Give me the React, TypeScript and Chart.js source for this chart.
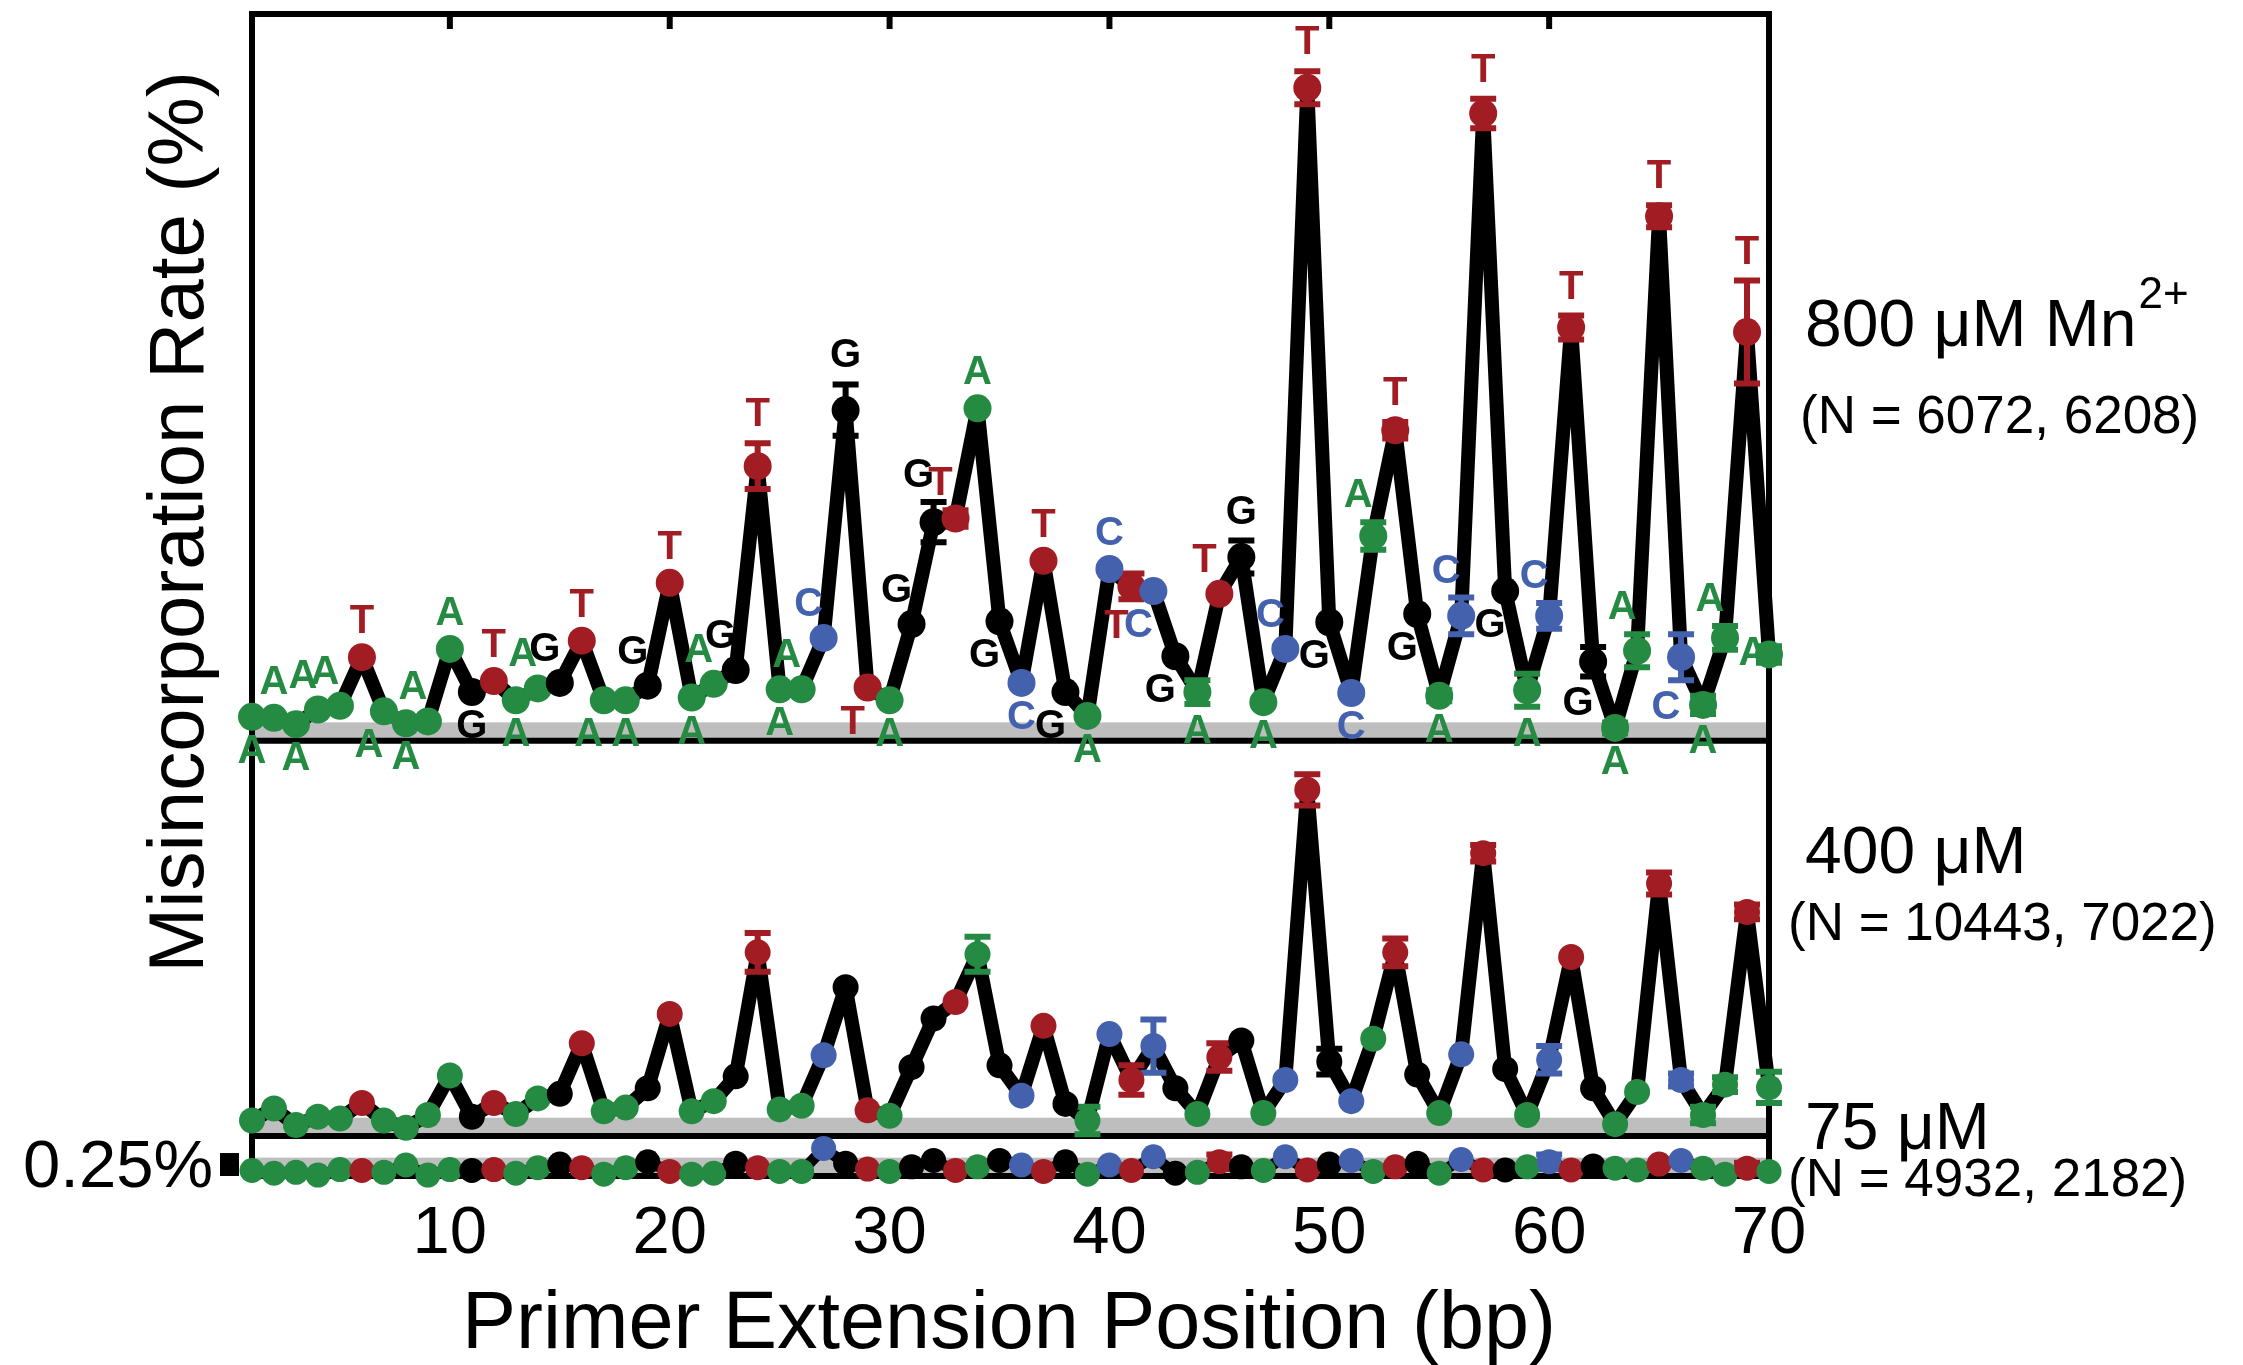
import React, { useEffect, useRef } from "react";
import { Chart, registerables } from "chart.js";

Chart.register(...registerables);

// ---------- data ----------
const POSITIONS = [
  1, 2, 3, 4, 5, 6, 7, 8, 9, 10, 11, 12, 13, 14, 15, 16, 17, 18, 19, 20,
  21, 22, 23, 24, 25, 26, 27, 28, 29, 30, 31, 32, 33, 34, 35, 36, 37, 38, 39, 40,
  41, 42, 43, 44, 45, 46, 47, 48, 49, 50, 51, 52, 53, 54, 55, 56, 57, 58, 59, 60,
  61, 62, 63, 64, 65, 66, 67, 68, 69, 70,
];

const SEQUENCE = "AAAAATAAAAGTAAGTAAGTAAGTAACGTAGGTAGCTGACTCGATGACTGCATGACTGACTGAATCAATA".split("");

// 800 uM Mn2+ (misincorporation rate, %)
const RATE_800 = [
  0.26, 0.25, 0.18, 0.34, 0.38, 0.91, 0.32, 0.19, 0.21, 1.0,
  0.53, 0.65, 0.44, 0.57, 0.63, 1.09, 0.44, 0.44, 0.6, 1.72,
  0.47, 0.62, 0.77, 2.99, 0.56, 0.56, 1.12, 3.6, 0.58, 0.44,
  1.27, 2.38, 2.42, 3.62, 1.3, 0.63, 1.96, 0.53, 0.27, 1.87,
  1.68, 1.63, 0.92, 0.53, 1.6, 2.0, 0.42, 1.0, 7.11, 1.29,
  0.52, 2.23, 3.38, 1.38, 0.49, 1.36, 6.83, 1.63, 0.55, 1.36,
  4.5, 0.86, 0.14, 0.98, 5.71, 0.91, 0.39, 1.12, 4.45, 0.94,
];
const ERR_800 = [
  0, 0, 0, 0, 0, 0, 0, 0, 0, 0,
  0, 0, 0, 0, 0, 0, 0, 0, 0, 0,
  0, 0, 0, 0.25, 0, 0, 0, 0.28, 0, 0,
  0, 0.22, 0.09, 0, 0, 0, 0, 0, 0, 0,
  0.14, 0, 0, 0.13, 0, 0.18, 0, 0, 0.18, 0,
  0, 0.15, 0.09, 0, 0.06, 0.2, 0.16, 0, 0.18, 0.14,
  0.13, 0.16, 0.06, 0.18, 0.12, 0.25, 0.1, 0.13, 0.56, 0.09,
];

// 400 uM
const RATE_400 = [
  0.17, 0.3, 0.12, 0.21, 0.19, 0.36, 0.17, 0.09, 0.23, 0.66,
  0.21, 0.36, 0.24, 0.41, 0.46, 1.01, 0.27, 0.31, 0.52, 1.33,
  0.27, 0.38, 0.65, 2.0, 0.29, 0.33, 0.88, 1.62, 0.28, 0.22,
  0.75, 1.28, 1.46, 1.98, 0.77, 0.44, 1.2, 0.35, 0.17, 1.11,
  0.61, 0.98, 0.52, 0.24, 0.86, 1.04, 0.25, 0.61, 3.77, 0.81,
  0.38, 1.06, 2.0, 0.67, 0.25, 0.89, 3.08, 0.73, 0.23, 0.83,
  1.95, 0.52, 0.13, 0.48, 2.75, 0.61, 0.23, 0.56, 2.44, 0.53,
];
const ERR_400 = [
  0, 0, 0, 0, 0, 0, 0, 0, 0, 0,
  0, 0, 0, 0, 0, 0, 0, 0, 0, 0,
  0, 0, 0, 0.21, 0, 0, 0, 0, 0, 0,
  0, 0, 0, 0.19, 0, 0, 0, 0, 0.15, 0,
  0.16, 0.29, 0, 0, 0.15, 0, 0, 0, 0.17, 0.14,
  0, 0, 0.15, 0, 0, 0, 0.09, 0, 0, 0.15,
  0, 0, 0, 0, 0.12, 0.07, 0.09, 0.08, 0.08, 0.17,
];

// 75 uM
const RATE_75 = [
  0.06, 0.03, 0.04, 0.01, 0.07, 0.06, 0.04, 0.12, 0.01, 0.07,
  0.06, 0.07, 0.03, 0.09, 0.13, 0.09, 0.02, 0.09, 0.155, 0.05,
  0.02, 0.03, 0.14, 0.09, 0.05, 0.05, 0.3, 0.14, 0.075, 0.05,
  0.1, 0.17, 0.06, 0.1, 0.17, 0.12, 0.05, 0.155, 0.02, 0.12,
  0.06, 0.21, 0.03, 0.04, 0.155, 0.1, 0.06, 0.21, 0.065, 0.13,
  0.17, 0.05, 0.1, 0.14, 0.03, 0.18, 0.065, 0.065, 0.1, 0.155,
  0.065, 0.11, 0.085, 0.065, 0.13, 0.17, 0.085, 0.02, 0.085, 0.05,
];
const ERR_75 = [
  0, 0, 0, 0, 0, 0, 0, 0, 0, 0,
  0, 0, 0, 0, 0, 0, 0, 0, 0, 0,
  0, 0, 0, 0, 0, 0, 0, 0, 0, 0,
  0, 0, 0, 0, 0, 0, 0, 0, 0, 0,
  0, 0, 0, 0, 0.08, 0, 0, 0, 0, 0,
  0, 0, 0, 0, 0, 0, 0, 0, 0, 0.08,
  0, 0, 0, 0, 0, 0, 0, 0, 0.06, 0,
];

// where each base letter sits in the top panel: a above, b below, A above-left, B below-left, L left
const LABEL_SIDE = [
  "b", "a", "b", "A", "A", "a", "B", "b", "A", "a",
  "b", "a", "b", "A", "A", "a", "B", "b", "A", "a",
  "b", "A", "A", "a", "b", "A", "A", "a", "B", "b",
  "A", "A", "A", "a", "B", "b", "a", "B", "b", "a",
  "B", "B", "B", "b", "A", "a", "b", "A", "a", "B",
  "b", "A", "a", "B", "b", "A", "a", "B", "b", "A",
  "a", "B", "b", "A", "a", "B", "b", "A", "a", "L",
];

const X_TICKS = [10, 20, 30, 40, 50, 60, 70];
const BACKGROUND_BAND = 0.2; // %
const SCALE_BAR = 0.25; // %

const PANEL_TEXT = [
  { big: "800 \u03bcM Mn", sup: "2+", n: "(N = 6072, 6208)" },
  { big: "400 \u03bcM", sup: "", n: "(N = 10443, 7022)" },
  { big: "75 \u03bcM", sup: "", n: "(N = 4932, 2182)" },
];

// ---------- styles ----------
const FONT = "'Liberation Sans', Arial, Helvetica, sans-serif";
const BASE_COLORS: Record<string, string> = {
  A: "#258B43",
  C: "#4361AD",
  G: "#000000",
  T: "#A11D23",
};
const POINT_COLORS = SEQUENCE.map((b) => BASE_COLORS[b]);

const W = 2243;
const H = 1365;

const decorPlugin = {
  id: "decor",
  beforeDatasetsDraw(chart: any) {
    const { ctx, chartArea: ca, scales } = chart;
    const x = scales.x;
    const xl = x.getPixelForValue(1);
    const xr = x.getPixelForValue(70);
    ctx.save();
    // grey background bands
    ctx.fillStyle = "#BEBEBE";
    for (const id of ["yTop", "yMid", "yBot"]) {
      const s = scales[id];
      const y0 = s.getPixelForValue(0);
      const y1 = s.getPixelForValue(BACKGROUND_BAND);
      ctx.fillRect(xl, y1, xr - xl, y0 - y1);
    }
    ctx.strokeStyle = "#000";
    ctx.lineWidth = 6;
    ctx.lineCap = "butt";
    // panel baselines
    for (const id of ["yTop", "yMid", "yBot"]) {
      const y0 = scales[id].getPixelForValue(0);
      ctx.beginPath();
      ctx.moveTo(xl - 3, y0);
      ctx.lineTo(xr + 3, y0);
      ctx.stroke();
    }
    // frame
    const yb = scales.yBot.getPixelForValue(0) + 3;
    ctx.beginPath();
    ctx.moveTo(xl, yb);
    ctx.lineTo(xl, ca.top);
    ctx.lineTo(xr, ca.top);
    ctx.lineTo(xr, yb);
    ctx.lineJoin = "miter";
    ctx.stroke();
    // inward ticks on top edge
    for (const v of X_TICKS) {
      const px = x.getPixelForValue(v);
      ctx.beginPath();
      ctx.moveTo(px, ca.top);
      ctx.lineTo(px, ca.top + 15);
      ctx.stroke();
    }
    // scale bar
    const sb = scales.yBot;
    const ys0 = sb.getPixelForValue(0);
    const ys1 = sb.getPixelForValue(SCALE_BAR);
    ctx.fillStyle = "#000";
    ctx.fillRect(xl - 32, ys1, 19, ys0 - ys1);
    ctx.restore();
  },
  beforeDatasetDraw(chart: any, args: any) {
    const ds: any = chart.data.datasets[args.index];
    if (!ds.errs) return;
    const { ctx, scales } = chart;
    const s = scales[ds.yAxisID];
    const x = scales.x;
    ctx.save();
    ctx.lineWidth = 6;
    ctx.lineCap = "butt";
    ds.data.forEach((p: any, i: number) => {
      const e = ds.errs[i];
      if (!e) return;
      const px = x.getPixelForValue(p.x);
      const hi = s.getPixelForValue(p.y + e);
      const lo = s.getPixelForValue(p.y - e);
      ctx.strokeStyle = POINT_COLORS[i];
      ctx.beginPath();
      ctx.moveTo(px, hi);
      ctx.lineTo(px, lo);
      ctx.moveTo(px - 13, hi);
      ctx.lineTo(px + 13, hi);
      ctx.moveTo(px - 13, lo);
      ctx.lineTo(px + 13, lo);
      ctx.stroke();
    });
    ctx.restore();
  },
  afterDatasetsDraw(chart: any) {
    const { ctx, scales } = chart;
    const x = scales.x;
    const s = scales.yTop;
    ctx.save();
    ctx.font = `bold 40px ${FONT}`;
    ctx.textAlign = "center";
    ctx.textBaseline = "middle";
    POSITIONS.forEach((pos, i) => {
      const base = SEQUENCE[i];
      const v = RATE_800[i];
      const px = x.getPixelForValue(pos);
      const py = s.getPixelForValue(v);
      const errPx = Math.abs(s.getPixelForValue(v + ERR_800[i]) - py);
      const off = Math.max(35, errPx + 28);
      const side = LABEL_SIDE[i];
      let lx = px;
      let ly = py;
      if (side === "a") ly = py - off;
      else if (side === "b") ly = py + off;
      else if (side === "A") { ly = py - off + 2; lx = px - 15; }
      else if (side === "B") { ly = py + off; lx = px - 15; }
      else if (side === "L") { lx = px - 16; }
      ctx.fillStyle = BASE_COLORS[base];
      ctx.fillText(base, lx, ly);
    });
    ctx.restore();
  },
  afterDraw(chart: any) {
    const { ctx, chartArea: ca } = chart;
    ctx.save();
    ctx.fillStyle = "#000";
    // y title
    ctx.save();
    ctx.translate(203, 522);
    ctx.rotate(-Math.PI / 2);
    ctx.font = `78px ${FONT}`;
    ctx.textAlign = "center";
    ctx.textBaseline = "alphabetic";
    ctx.fillText("Misincorporation Rate (%)", 0, 0);
    ctx.restore();
    // x title
    ctx.font = `81px ${FONT}`;
    ctx.textAlign = "center";
    ctx.textBaseline = "alphabetic";
    ctx.fillText("Primer Extension Position (bp)", 1009, 1348);
    // scale bar label
    ctx.font = `67px ${FONT}`;
    ctx.textAlign = "right";
    ctx.fillText("0.25%", 213, 1187);
    // panel labels
    const bigX = ca.right + 36;
    const bigBase = [346, 873, 1149];
    const nX = [ca.right + 31, ca.right + 19, ca.right + 19];
    const nBase = [433, 940, 1196];
    ctx.textAlign = "left";
    PANEL_TEXT.forEach((t, k) => {
      ctx.font = `66px ${FONT}`;
      ctx.fillText(t.big, bigX, bigBase[k]);
      if (t.sup) {
        const w = ctx.measureText(t.big).width;
        ctx.font = `44px ${FONT}`;
        ctx.fillText(t.sup, bigX + w + 2, bigBase[k] - 38);
      }
      ctx.font = `53px ${FONT}`;
      ctx.fillText(t.n, nX[k], nBase[k]);
    });
    ctx.restore();
  },
};

function makePoints(vals: number[]) {
  return POSITIONS.map((p, i) => ({ x: p, y: vals[i] }));
}

export default function App() {
  const ref = useRef<HTMLCanvasElement>(null);
  useEffect(() => {
    if (!ref.current) return;
    const lineDs = (vals: number[], axis: string, width: number) => ({
      data: makePoints(vals),
      yAxisID: axis,
      borderColor: "#000",
      borderWidth: width,
      borderJoinStyle: "round",
      borderCapStyle: "round",
      pointRadius: 0,
      pointHoverRadius: 0,
      tension: 0,
      showLine: true,
      order: 10,
      clip: false,
    });
    const pointDs = (vals: number[], errs: number[], axis: string, r: number) => ({
      data: makePoints(vals),
      errs,
      yAxisID: axis,
      showLine: false,
      pointRadius: r,
      pointHoverRadius: r,
      pointBackgroundColor: POINT_COLORS,
      pointBorderWidth: 0,
      borderWidth: 0,
      order: 0,
      clip: false,
    });
    const chart = new Chart(ref.current, {
      type: "line",
      data: {
        datasets: [
          lineDs(RATE_800, "yTop", 14),
          lineDs(RATE_400, "yMid", 14),
          lineDs(RATE_75, "yBot", 11),
          pointDs(RATE_800, ERR_800, "yTop", 14),
          pointDs(RATE_400, ERR_400, "yMid", 13),
          pointDs(RATE_75, ERR_75, "yBot", 12.5),
        ] as any,
      },
      options: {
        animation: false,
        responsive: false,
        devicePixelRatio: 1,
        events: [],
        layout: { padding: { left: 252, right: W - 1769, top: 12, bottom: 89 } },
        plugins: {
          legend: { display: false },
          tooltip: { enabled: false },
          title: { display: false },
        },
        scales: {
          x: {
            type: "linear",
            position: "bottom",
            min: 1,
            max: 70,
            grid: { display: false, drawTicks: false },
            border: { display: false },
            ticks: {
              color: "#000",
              font: { family: FONT, size: 67 },
              padding: 18,
              maxRotation: 0,
              autoSkip: false,
            },
            afterBuildTicks: (s: any) => {
              s.ticks = X_TICKS.map((v) => ({ value: v }));
            },
            afterFit: (s: any) => {
              s.height = 100;
            },
          },
          yTop: {
            type: "linear",
            position: "left",
            stack: "panels",
            stackWeight: 728,
            weight: 3,
            min: 0,
            max: 7.913,
            display: false,
          },
          yMid: {
            type: "linear",
            position: "left",
            stack: "panels",
            stackWeight: 396,
            weight: 2,
            min: 0,
            max: 4.304,
            display: false,
          },
          yBot: {
            type: "linear",
            position: "left",
            stack: "panels",
            stackWeight: 40,
            weight: 1,
            min: 0,
            max: 0.435,
            display: false,
          },
        } as any,
      },
      plugins: [decorPlugin],
    });
    return () => chart.destroy();
  }, []);
  return (
    <canvas
      ref={ref}
      width={W}
      height={H}
      style={{ position: "absolute", left: 0, top: 0, width: W + "px", height: H + "px", display: "block", background: "#fff" }}
    />
  );
}
